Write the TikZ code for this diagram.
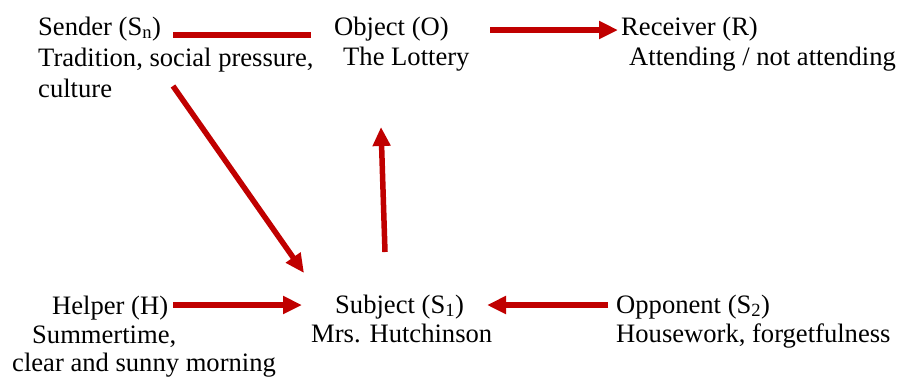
\documentclass[tikz,border=0pt]{standalone}
\usepackage{fontspec}
\setmainfont{Liberation Serif}
\usetikzlibrary{arrows.meta}
\definecolor{arrowred}{HTML}{C00000}
\begin{document}
\begin{tikzpicture}[x=1pt,y=-1pt,
  lbl/.style={anchor=base west,inner sep=0pt,font=\fontsize{26.6}{30}\selectfont},
  link/.style={draw=arrowred,line width=5.5pt},
  arrowlink/.style={link,-{Triangle[length=19pt,width=17pt]}}]
\useasboundingbox (0,0) rectangle (897,376);
% actant labels
\node[lbl] (sendA) at (38,35) {Sender (S\textsubscript{n})};
\node[lbl] (sendB) at (38,66) {Tradition, social pressure,};
\node[lbl] (sendC) at (38,97) {culture};
\node[lbl] (objA) at (334,35) {Object (O)};
\node[lbl] (objB) at (343,65) {The Lottery};
\node[lbl] (recA) at (621,35) {Receiver (R)};
\node[lbl] (recB) at (629,65) {Attending / not attending};
\node[lbl] (helpA) at (52,314) {Helper (H)};
\node[lbl] (helpB) at (32,343) {Summertime,};
\node[lbl] (helpC) at (12,371) {clear and sunny morning};
\node[lbl] (subjA) at (335,313) {Subject (S\textsubscript{1})};
\node[lbl] (subjB) at (311,342) {Mrs. Hutchinson};
\node[lbl] (oppA) at (616,313) {Opponent (S\textsubscript{2})};
\node[lbl] (oppB) at (616,342) {Housework, forgetfulness};
% connectors
\draw[link] ([xshift=135pt]sendA.base west) -- ([xshift=-23pt]objA.base west);
\draw[arrowlink] ([xshift=156pt,yshift=5pt]objA.base west) -- ([xshift=-3pt,yshift=5pt]recA.base west);
\draw[arrowlink] ([xshift=135pt,yshift=11pt]sendC.base west) -- ([xshift=-31pt,yshift=40pt]subjA.base west);
\draw[arrowlink] ([xshift=50pt,yshift=61pt]subjA.base west) -- ([xshift=38pt,yshift=-62pt]objB.base west);
\draw[arrowlink] ([xshift=121pt,yshift=9pt]helpA.base west) -- ([xshift=-33pt,yshift=8pt]subjA.base west);
\draw[arrowlink] ([xshift=-8pt,yshift=8pt]oppA.base west) -- ([xshift=152pt,yshift=8pt]subjA.base west);
\end{tikzpicture}
\end{document}
